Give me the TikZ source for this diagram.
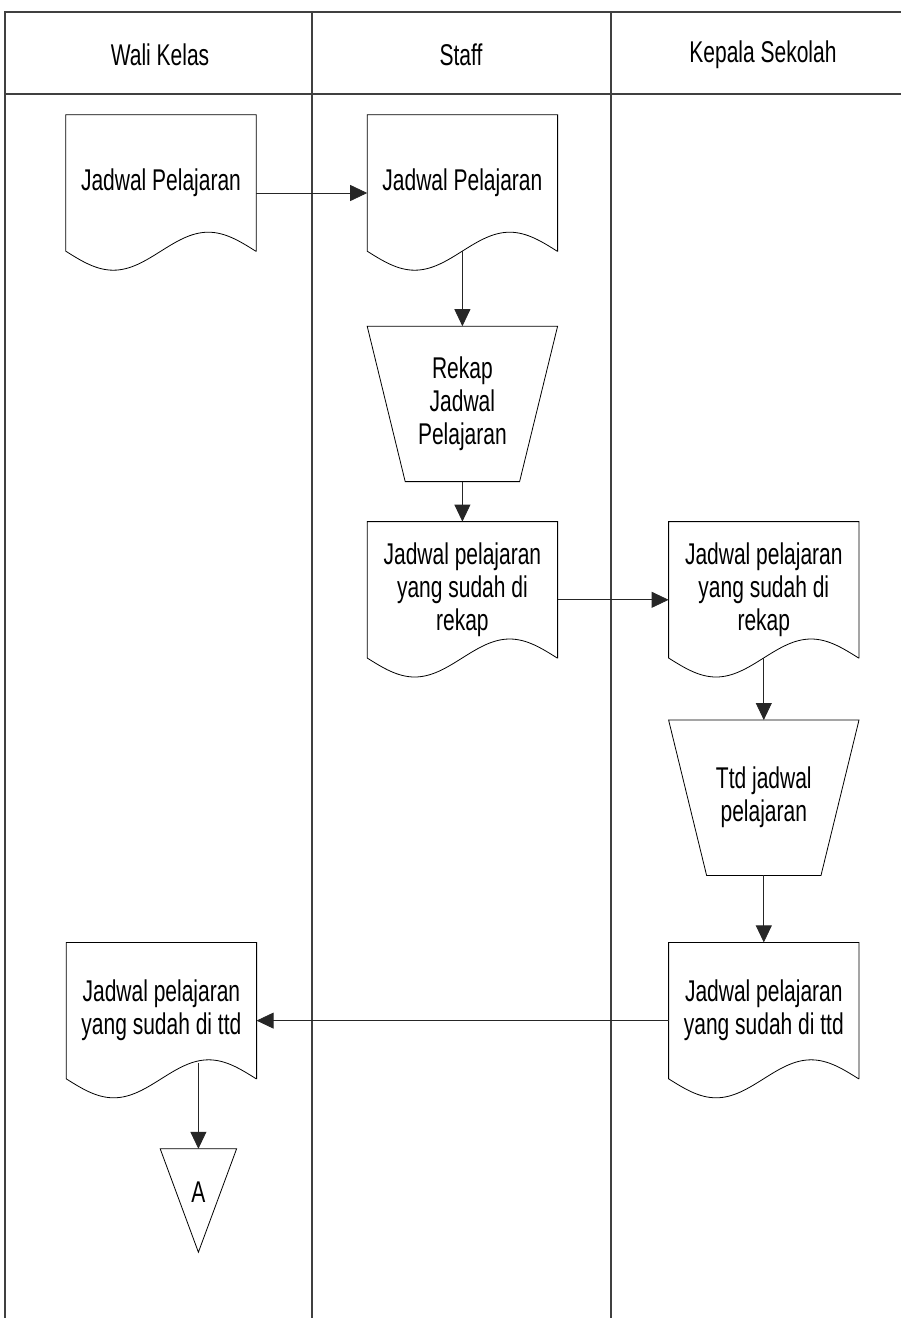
\documentclass[tikz,border=0pt]{standalone}
\usepackage{fontspec}
\setmainfont{Liberation Sans}[FakeStretch=0.70]
\usepackage{tikz}
\usetikzlibrary{arrows.meta,positioning,calc}

\begin{document}
\begin{tikzpicture}[
    x=1pt, y=-1pt,
    txt/.style={font=\fontsize{30}{33}\selectfont, align=center},
    lane/.style={draw=black!75, line width=1.2pt},
    lanehead/.style={txt},
    docbox/.style={txt, minimum width=190pt, minimum height=136pt, inner sep=0pt,
      append after command={\pgfextra{\draw[line width=0.8pt]
        (\tikzlastnode.south east) -- (\tikzlastnode.north east) -- (\tikzlastnode.north west) -- (\tikzlastnode.south west)
        sin ++(47.5pt,-19pt) cos ++(47.5pt,19pt) sin ++(47.5pt,19pt) cos ++(47.5pt,-19pt) -- cycle;}}},
    procbox/.style={txt, minimum width=190pt, minimum height=155pt, inner sep=0pt,
      append after command={\pgfextra{\draw[line width=0.8pt]
        (\tikzlastnode.north west) -- (\tikzlastnode.north east) -- ([xshift=-38pt]\tikzlastnode.south east)
        -- ([xshift=38pt]\tikzlastnode.south west) -- cycle;}}},
    offpage/.style={txt, minimum width=76pt, minimum height=86pt, inner sep=0pt,
      append after command={\pgfextra{\draw[line width=0.8pt]
        (\tikzlastnode.north west) -- (\tikzlastnode.north east) -- ([yshift=-17pt]\tikzlastnode.south) -- cycle;}}},
    arrow/.style={-{Triangle[length=17pt,width=16pt]}, line width=0.8pt, draw=black!85}
  ]
    \useasboundingbox (0,0) rectangle (901,1318);

    % Swimlanes
    \draw[lane] (5,1318) -- (5,12) -- (901,12);
    \draw[lane] (5,94) -- (901,94);
    \foreach \x in {312,611}
      \draw[lane] (\x,12) -- (\x,1318);
    \node[lanehead] (hwali) at (160,55) {Wali Kelas};
    \node[lanehead] (hstaff) at (461,55) {Staff};
    \node[lanehead] (hkepala) at (763,55) {Kepala Sekolah};

    % Flow nodes
    \node[docbox] (jadwal1) at (161,183) {Jadwal Pelajaran};
    \node[docbox, right=111pt of jadwal1] (jadwal2) {Jadwal Pelajaran};
    \node[procbox, below=75pt of jadwal2] (rekap) {Rekap\\Jadwal\\Pelajaran};
    \node[docbox, below=40pt of rekap] (hasil1) {Jadwal pelajaran\\yang sudah di\\rekap};
    \node[docbox, right=111pt of hasil1] (hasil2) {Jadwal pelajaran\\yang sudah di\\rekap};
    \node[procbox, below=62pt of hasil2] (ttd) {Ttd jadwal\\pelajaran};
    \node[docbox, below=67pt of ttd] (final1) {Jadwal pelajaran\\yang sudah di ttd};
    \node[docbox, left=412pt of final1] (final2) {Jadwal pelajaran\\yang sudah di ttd};
    \coordinate (wave) at ($(final2.south)+(37pt,16pt)$);
    \node[offpage, below=86pt of wave] (conA) {A};

    % Arrows
    \draw[arrow] ([yshift=-10pt]jadwal1.east) -- ([yshift=-10pt]jadwal2.west);
    \draw[arrow] (jadwal2) -- (rekap);
    \draw[arrow] (rekap) -- (hasil1);
    \draw[arrow] ([yshift=-10pt]hasil1.east) -- ([yshift=-10pt]hasil2.west);
    \draw[arrow] (hasil2) -- (ttd);
    \draw[arrow] (ttd) -- (final1);
    \draw[arrow] ([yshift=-10pt]final1.west) -- ([yshift=-10pt]final2.east);
    \draw[arrow] (wave) -- (conA);
  \end{tikzpicture}
\end{document}
